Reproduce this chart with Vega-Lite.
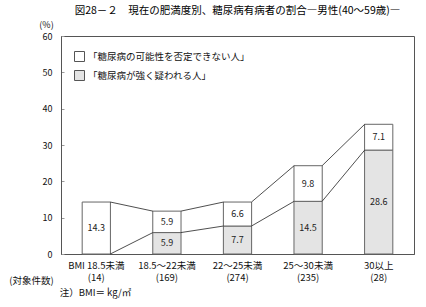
{
  "$schema": "https://vega.github.io/schema/vega-lite/v6.json",
  "width": 353,
  "height": 218,
  "autosize": "none",
  "padding": {"left": 61, "top": 36, "right": 12, "bottom": 53},
  "config": {
    "font": "Noto Sans CJK JP",
    "view": {"stroke": "#555", "strokeWidth": 1},
    "axis": {"labelColor": "#111", "titleColor": "#111", "titleFontWeight": "normal", "grid": false}
  },
  "title": {
    "text": "図28－２　現在の肥満度別、糖尿病有病者の割合―男性(40～59歳)―",
    "fontSize": 10.5,
    "fontWeight": "normal",
    "color": "#000",
    "anchor": "middle",
    "offset": 4
  },
  "data": {
    "values": [
      {"cat": "BMI 18.5未満|(14)", "ci": 0, "series": "「糖尿病が強く疑われる人」", "value": 0},
      {"cat": "BMI 18.5未満|(14)", "ci": 0, "series": "「糖尿病の可能性を否定できない人」", "value": 14.3},
      {"cat": "18.5～22未満|(169)", "ci": 1, "series": "「糖尿病が強く疑われる人」", "value": 5.9},
      {"cat": "18.5～22未満|(169)", "ci": 1, "series": "「糖尿病の可能性を否定できない人」", "value": 5.9},
      {"cat": "22～25未満|(274)", "ci": 2, "series": "「糖尿病が強く疑われる人」", "value": 7.7},
      {"cat": "22～25未満|(274)", "ci": 2, "series": "「糖尿病の可能性を否定できない人」", "value": 6.6},
      {"cat": "25～30未満|(235)", "ci": 3, "series": "「糖尿病が強く疑われる人」", "value": 14.5},
      {"cat": "25～30未満|(235)", "ci": 3, "series": "「糖尿病の可能性を否定できない人」", "value": 9.8},
      {"cat": "30以上|(28)", "ci": 4, "series": "「糖尿病が強く疑われる人」", "value": 28.6},
      {"cat": "30以上|(28)", "ci": 4, "series": "「糖尿病の可能性を否定できない人」", "value": 7.1}
    ]
  },
  "transform": [
    {"stack": "value", "groupby": ["cat"], "sort": [{"field": "series", "order": "ascending"}], "as": ["v0", "v1"]},
    {"calculate": "(datum.v0 + datum.v1) / 2", "as": "mid"}
  ],
  "resolve": {"axis": {"x": "independent"}},
  "layer": [
    {
      "mark": {"type": "bar", "stroke": "#666", "strokeWidth": 1},
      "encoding": {
        "x": {
          "field": "cat", "type": "nominal",
          "sort": ["BMI 18.5未満|(14)", "18.5～22未満|(169)", "22～25未満|(274)", "25～30未満|(235)", "30以上|(28)"],
          "scale": {"paddingInner": 0.6, "paddingOuter": 0.3},
          "axis": {
            "labelExpr": "split(datum.label, '|')",
            "labelAngle": 0,
            "labelFontSize": 9.5,
            "labelLineHeight": 12.5,
            "labelBaseline": "top",
            "labelPadding": 6,
            "ticks": false,
            "domainColor": "#555",
            "title": "注）BMI＝ kg/㎡",
            "titleFontSize": 9.5,
            "titleAlign": "center",
            "titleBaseline": "middle",
            "titleX": 34,
            "titleY": 38
          }
        },
        "y": {
          "field": "v0", "type": "quantitative",
          "scale": {"domain": [0, 60]},
          "axis": {
            "values": [0, 10, 20, 30, 40, 50, 60],
            "labelOverlap": false,
            "title": "(%)",
            "titleAngle": 0,
            "titleX": -15,
            "titleY": -12,
            "titleAlign": "center",
            "titleBaseline": "middle",
            "titleFontSize": 9,
            "tickSize": -3,
            "tickColor": "#999",
            "domainColor": "#555",
            "labelPadding": 12,
            "labelFontSize": 9
          }
        },
        "y2": {"field": "v1"},
        "color": {
          "field": "series", "type": "nominal",
          "scale": {"domain": ["「糖尿病の可能性を否定できない人」", "「糖尿病が強く疑われる人」"], "range": ["#ffffff", "#e4e4e4"]},
          "legend": {
            "orient": "none",
            "legendX": 13,
            "legendY": 15,
            "title": null,
            "symbolType": "square",
            "symbolSize": 100,
            "symbolStrokeColor": "#555",
            "symbolStrokeWidth": 1,
            "labelFontSize": 9.5,
            "labelColor": "#111",
            "labelOffset": 3,
            "labelLimit": 300,
            "rowPadding": 4
          }
        }
      }
    },
    {
      "transform": [
        {"window": [{"op": "lead", "field": "v1", "as": "nv1"}, {"op": "lead", "field": "cat", "as": "ncat"}], "groupby": ["series"], "sort": [{"field": "ci", "order": "ascending"}]},
        {"filter": "datum.ncat != null"}
      ],
      "mark": {"type": "rule", "color": "#222", "strokeWidth": 0.8, "xOffset": 14, "x2Offset": -14},
      "encoding": {
        "x": {"field": "cat", "type": "nominal", "sort": ["BMI 18.5未満|(14)", "18.5～22未満|(169)", "22～25未満|(274)", "25～30未満|(235)", "30以上|(28)"], "axis": null},
        "x2": {"field": "ncat"},
        "y": {
          "field": "v1", "type": "quantitative",
          "axis": {
            "values": [0, 10, 20, 30, 40, 50, 60],
            "labelOverlap": false,
            "title": "(%)",
            "titleAngle": 0,
            "titleX": -15,
            "titleY": -12,
            "titleAlign": "center",
            "titleBaseline": "middle",
            "titleFontSize": 9,
            "tickSize": -3,
            "tickColor": "#999",
            "domainColor": "#555",
            "labelPadding": 12,
            "labelFontSize": 9
          }
        },
        "y2": {"field": "nv1"}
      }
    },
    {
      "transform": [{"filter": "datum.value > 0"}],
      "mark": {"type": "text", "fontSize": 9, "color": "#222"},
      "encoding": {
        "x": {
          "field": "cat", "type": "nominal",
          "sort": ["BMI 18.5未満|(14)", "18.5～22未満|(169)", "22～25未満|(274)", "25～30未満|(235)", "30以上|(28)"],
          "axis": {
            "orient": "top",
            "labels": false,
            "ticks": false,
            "domain": false,
            "title": "(対象件数)",
            "titleFontSize": 9.5,
            "titleAlign": "center",
            "titleBaseline": "middle",
            "titleX": -30,
            "titleY": 244
          }
        },
        "y": {
          "field": "mid", "type": "quantitative",
          "axis": {
            "values": [0, 10, 20, 30, 40, 50, 60],
            "labelOverlap": false,
            "title": "(%)",
            "titleAngle": 0,
            "titleX": -15,
            "titleY": -12,
            "titleAlign": "center",
            "titleBaseline": "middle",
            "titleFontSize": 9,
            "tickSize": -3,
            "tickColor": "#999",
            "domainColor": "#555",
            "labelPadding": 12,
            "labelFontSize": 9
          }
        },
        "text": {"field": "value", "type": "quantitative", "format": ".1f"}
      }
    }
  ]
}
